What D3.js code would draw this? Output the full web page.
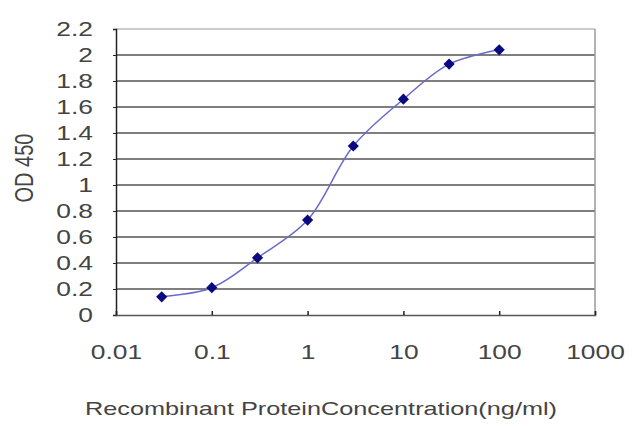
<!DOCTYPE html>
<html>
<head>
<meta charset="utf-8">
<script src="https://cdn.jsdelivr.net/npm/d3@7"></script>
<style>
  body { margin: 0; background: #fff; }
  text { font-family: "Liberation Sans", Arial, sans-serif; fill: #444; }
</style>
</head>
<body>
<script>
// concentration (ng/ml) and OD 450 readings
const concentrations = [0.03, 0.1, 0.3, 1, 3, 10, 30, 100];
const odValues = [0.14, 0.21, 0.44, 0.73, 1.30, 1.66, 1.93, 2.04];
const xTicks = [0.01, 0.1, 1, 10, 100, 1000];
const yTicks = [0, 0.2, 0.4, 0.6, 0.8, 1, 1.2, 1.4, 1.6, 1.8, 2, 2.2];

const data = concentrations.map((c, i) => ({ x: c, y: odValues[i] }));

const margin = { top: 29, right: 45, bottom: 112, left: 116 };
const width = 640 - margin.left - margin.right;
const height = 427 - margin.top - margin.bottom;

// the original picture is stretched sideways, so text is too
const stretch = 1.32;

const svg = d3.select("body")
    .append("svg")
    .attr("width", 640)
    .attr("height", 427);

const g = svg.append("g")
    .attr("transform", "translate(" + margin.left + "," + margin.top + ")");

const x = d3.scaleLog()
    .domain([0.01, 1000])
    .range([0, width]);

const y = d3.scaleLinear()
    .domain([0, 2.2])
    .range([height, 0]);

// horizontal gridlines
g.selectAll(".grid")
    .data(yTicks.filter(d => d > 0))
    .enter().append("line")
    .attr("x1", 0)
    .attr("x2", width)
    .attr("y1", d => y(d))
    .attr("y2", d => y(d))
    .attr("stroke", d => d === 2.2 ? "#bbb" : "#555")
    .attr("stroke-width", 1.5);

// right border
g.append("line")
    .attr("x1", width).attr("x2", width)
    .attr("y1", 0).attr("y2", height)
    .attr("stroke", "#999")
    .attr("stroke-width", 1.5);

// y axis
const yAxis = g.append("g")
    .call(d3.axisLeft(y).tickValues(yTicks).tickSize(3).tickFormat(d3.format("")));
yAxis.select(".domain").attr("stroke", "#222").attr("stroke-width", 1.5);
yAxis.selectAll(".tick line").attr("stroke", "#222");
yAxis.selectAll(".tick text")
    .attr("x", 0)
    .attr("transform", "translate(-23,0) scale(" + stretch + ",1)")
    .style("font-size", "20px")
    .style("fill", "#444");

// x axis, ticks pointing up
const xAxis = g.append("g")
    .attr("transform", "translate(0," + height + ")")
    .call(d3.axisBottom(x).tickValues(xTicks).tickSize(-4).tickFormat(d => String(d)));
xAxis.select(".domain").attr("stroke", "#555").attr("stroke-width", 1.5);
xAxis.selectAll(".tick line").attr("stroke", "#222").attr("stroke-width", 1.5);
xAxis.selectAll(".tick text")
    .attr("y", 0)
    .attr("dy", null)
    .attr("transform", "translate(0,44) scale(" + stretch + ",1)")
    .style("font-size", "20px")
    .style("fill", "#444");

// curve
const line = d3.line()
    .x(d => x(d.x))
    .y(d => y(d.y))
    .curve(d3.curveCatmullRom.alpha(0.5));

g.append("path")
    .datum(data)
    .attr("fill", "none")
    .attr("stroke", "#6a6ac8")
    .attr("stroke-width", 1.5)
    .attr("d", line);

// diamond markers
g.selectAll(".pt")
    .data(data)
    .enter().append("path")
    .attr("class", "pt")
    .attr("transform", d => "translate(" + x(d.x) + "," + y(d.y) + ")")
    .attr("d", d3.symbol().type(d3.symbolDiamond2).size(80))
    .attr("fill", "#0a0a80");

// axis titles
svg.append("text")
    .attr("x", 321)
    .attr("y", 415)
    .attr("text-anchor", "middle")
    .attr("textLength", 472)
    .attr("lengthAdjust", "spacingAndGlyphs")
    .style("font-size", "19px")
    .text("Recombinant ProteinConcentration(ng/ml)");

svg.append("text")
    .attr("transform", "translate(33,168) rotate(-90) scale(1," + stretch + ")")
    .attr("text-anchor", "middle")
    .style("font-size", "20px")
    .text("OD 450");
</script>
</body>
</html>
